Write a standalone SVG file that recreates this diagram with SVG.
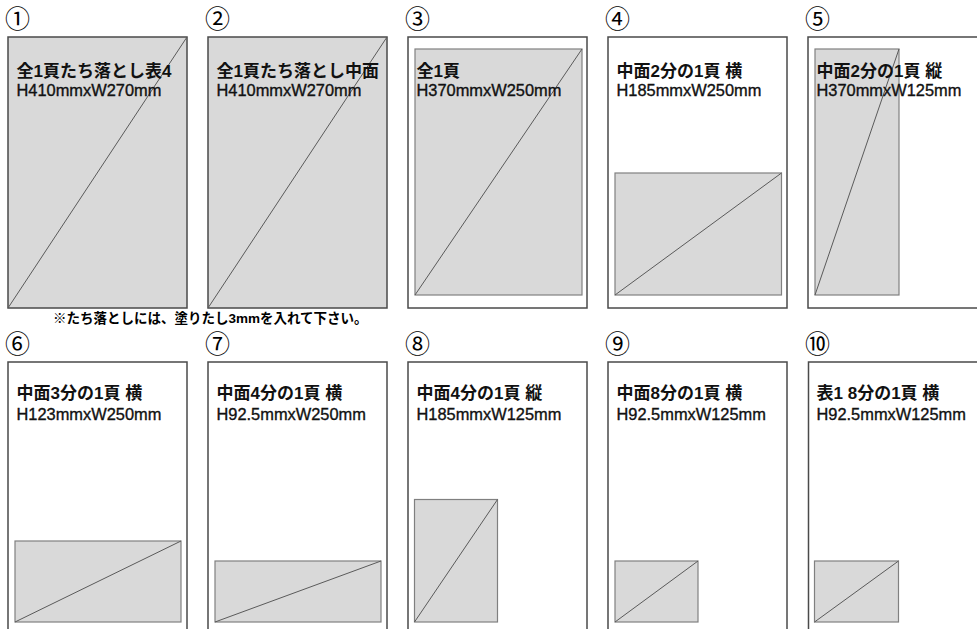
<svg xmlns="http://www.w3.org/2000/svg" width="977" height="629" viewBox="0 0 977 629">
<style>
.bg{fill:#ffffff}
.frame{fill:#ffffff;stroke:#4a4a4a;stroke-width:1.5}
.full{fill:#d9d9d9;stroke:#4a4a4a;stroke-width:1.5}
.area{fill:#d9d9d9;stroke:#808080;stroke-width:1.2}
.diag{stroke:#5a5a5a;stroke-width:1;fill:none}
.num{font-family:"Noto Sans CJK JP","DejaVu Sans",sans-serif;font-size:25px;fill:#000}
.title{font-family:"Liberation Sans","Noto Sans CJK JP",sans-serif;font-size:17px;font-weight:bold;fill:#111}
.dim{font-family:"Liberation Sans","Noto Sans CJK JP",sans-serif;font-size:16.4px;fill:#111;stroke:#111;stroke-width:0.35}
.note{font-family:"Liberation Sans","Noto Sans CJK JP",sans-serif;font-size:13.5px;font-weight:bold;fill:#000}
</style>
<rect class="bg" x="0" y="0" width="977" height="629"/>

<g id="node1">
<text class="num" x="5" y="28">①</text>
<rect class="full" x="8" y="37" width="179" height="271"/>
<line class="diag" x1="8" y1="308" x2="187" y2="37"/>
<text class="title" x="16.5" y="76.5">全1頁たち落とし表4</text>
<text class="dim" x="16.5" y="95.5">H410mmxW270mm</text>
</g>

<g id="node2">
<text class="num" x="205" y="28">②</text>
<rect class="full" x="208" y="37" width="179" height="271"/>
<line class="diag" x1="208" y1="308" x2="387" y2="37"/>
<text class="title" x="216.5" y="76.5">全1頁たち落とし中面</text>
<text class="dim" x="216.5" y="95.5">H410mmxW270mm</text>
</g>

<g id="node3">
<text class="num" x="405" y="28">③</text>
<rect class="frame" x="408" y="37" width="179" height="271"/>
<rect class="area" x="415" y="49" width="167" height="246"/>
<line class="diag" x1="415" y1="295" x2="582" y2="49"/>
<text class="title" x="416.5" y="76.5">全1頁</text>
<text class="dim" x="416.5" y="95.5">H370mmxW250mm</text>
</g>

<g id="node4">
<text class="num" x="605" y="28">④</text>
<rect class="frame" x="608" y="37" width="179" height="271"/>
<rect class="area" x="615" y="173" width="166.5" height="122"/>
<line class="diag" x1="615" y1="295" x2="781.5" y2="173"/>
<text class="title" x="616.5" y="76.5">中面2分の1頁 横</text>
<text class="dim" x="616.5" y="95.5">H185mmxW250mm</text>
</g>

<g id="node5">
<text class="num" x="805" y="28">⑤</text>
<rect class="frame" x="808" y="37" width="179" height="271"/>
<rect class="area" x="815" y="49" width="84" height="246"/>
<line class="diag" x1="815" y1="295" x2="899" y2="49"/>
<text class="title" x="816.5" y="76.5">中面2分の1頁 縦</text>
<text class="dim" x="816.5" y="95.5">H370mmxW125mm</text>
</g>

<g id="note">
<text class="note" x="53" y="323">※たち落としには、塗りたし3mmを入れて下さい。</text>
</g>

<g id="node6">
<text class="num" x="5" y="353">⑥</text>
<rect class="frame" x="8" y="362" width="179" height="290"/>
<rect class="area" x="15" y="541" width="166" height="81"/>
<line class="diag" x1="15" y1="622" x2="181" y2="541"/>
<text class="title" x="16.5" y="399">中面3分の1頁 横</text>
<text class="dim" x="16.5" y="420">H123mmxW250mm</text>
</g>

<g id="node7">
<text class="num" x="205" y="353">⑦</text>
<rect class="frame" x="208" y="362" width="179" height="290"/>
<rect class="area" x="215" y="561" width="166" height="61"/>
<line class="diag" x1="215" y1="622" x2="381" y2="561"/>
<text class="title" x="216.5" y="399">中面4分の1頁 横</text>
<text class="dim" x="216.5" y="420">H92.5mmxW250mm</text>
</g>

<g id="node8">
<text class="num" x="405" y="353">⑧</text>
<rect class="frame" x="408" y="362" width="179" height="290"/>
<rect class="area" x="414.5" y="499.5" width="83" height="122.5"/>
<line class="diag" x1="414.5" y1="622" x2="497.5" y2="499.5"/>
<text class="title" x="416.5" y="399">中面4分の1頁 縦</text>
<text class="dim" x="416.5" y="420">H185mmxW125mm</text>
</g>

<g id="node9">
<text class="num" x="605" y="353">⑨</text>
<rect class="frame" x="608" y="362" width="179" height="290"/>
<rect class="area" x="615" y="561" width="83" height="61"/>
<line class="diag" x1="615" y1="622" x2="698" y2="561"/>
<text class="title" x="616.5" y="399">中面8分の1頁 横</text>
<text class="dim" x="616.5" y="420">H92.5mmxW125mm</text>
</g>

<g id="node10">
<text class="num" x="805" y="353">⑩</text>
<rect class="frame" x="808.5" y="362" width="179" height="290"/>
<rect class="area" x="814.5" y="561" width="84" height="61"/>
<line class="diag" x1="814.5" y1="622" x2="898.5" y2="561"/>
<text class="title" x="816.5" y="399">表1 8分の1頁 横</text>
<text class="dim" x="816.5" y="420">H92.5mmxW125mm</text>
</g>
</svg>
